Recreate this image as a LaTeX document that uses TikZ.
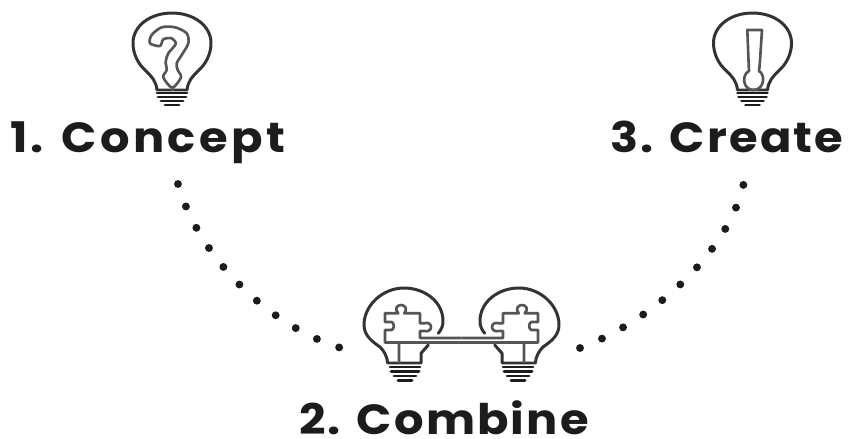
\documentclass[tikz,border=0pt]{standalone}
\usepackage{fontspec}
\setmainfont{Poppins}[FakeStretch=1.1, LetterSpace=5]
\usetikzlibrary{positioning}
\definecolor{ink}{HTML}{1C1C1C}
\tikzset{
    title/.style={font=\bfseries\fontsize{24}{26}\selectfont, text=ink, inner sep=0pt, anchor=base},
    outline/.style={draw=ink!90, line width=1.7pt, line join=round, line cap=round},
    thinline/.style={draw=ink!75, line width=1.5pt, line join=round},
    screw/.style={draw=ink, line width=1.7pt, line cap=round},
    trail/.style={draw=ink, line width=4.5pt, line cap=round}, % round dots
    bulb/.pic={
        \draw[outline] (-15,47) .. controls (-16,38) and (-20,34) .. (-26,28)
            .. controls (-34,21) and (-39,11) .. (-39,0)
            .. controls (-39,-17) and (-22,-30) .. (0,-30)
            .. controls (22,-30) and (39,-17) .. (39,0)
            .. controls (39,11) and (34,21) .. (26,28)
            .. controls (20,34) and (16,38) .. (15,47) -- cycle;
        \foreach \yy/\ww in {50/15,54/14,58/11,62/7}
            \draw[screw] (-\ww,\yy) -- (\ww,\yy);
    },
    halfbulb/.pic={
        \draw[outline] (35.3,6.3) .. controls (39,2) and (40,-2) .. (40,-6)
            .. controls (40,-25) and (22,-39) .. (1,-39)
            .. controls (-20,-39) and (-39,-22) .. (-39,-2)
            .. controls (-39,9) and (-30,15) .. (-23,20)
            .. controls (-19,24) and (-16,29) .. (-15.3,36) -- (18,36) -- (18,26.3) -- (25.3,18);
        \draw[thinline] (-4,36) -- (-4,15.5) -- (-18,15.5) -- (-18,3) -- (-11.3,3)
            .. controls (-8.5,2) and (-8.5,-4) .. (-11.3,-5) -- (-18,-5) -- (-18,-13.7) -- (-4.7,-13.7)
            .. controls (-9,-18) and (-6,-22) .. (-2,-22)
            .. controls (2,-22) and (5,-18) .. (1.3,-13.7) -- (17,-13.7) -- (17,-3.7) -- (21,-3.7)
            .. controls (25,-5) and (28,-3) .. (28,0)
            .. controls (28,3) and (25,5) .. (21,4) -- (17,4) -- (17,11) -- (58.5,11);
        \draw[thinline] (-4,15.5) -- (58.5,15.5);
        \foreach \yy/\ww in {40/15,44.5/14,49/11,53.5/7}
            \draw[screw] (2-\ww,\yy) -- (2+\ww,\yy);
    },
}
\begin{document}
\begin{tikzpicture}[x=0.02cm, y=-0.02cm]
\useasboundingbox (0,0) rectangle (848,439);
% bulbs
\pic at (172,43) {bulb};
\pic at (752.5,43) {bulb};
\pic at (403,327) {halfbulb};
\pic[xscale=-1] at (520,327) {halfbulb};
% question mark
\begin{scope}[shift={(172,43)}]
\draw[thinline] plot[smooth cycle, tension=0.5] coordinates {(-22,0.3) (-20.3,-8) (-10.3,-15.7) (3,-15.7) (14.7,-9.7) (16.3,0.3) (9.7,12) (4.7,20.3) (5.7,27) (9,34.3) (.3,44.7) (-8.7,34.3) (-5.3,27) (-6.3,18.7) (-3.7,10.3) (3.7,1) (-.3,-4.7) (-8.7,-3.7) (-12,3)};
\draw[thinline] (.3,44.7) -- (.3,48);
\end{scope}
% exclamation mark
\draw[thinline] (747.3,30) -- (762,30) -- (759.7,65) -- (759,71) .. controls (766,75) and (764,90) .. (753.5,90)
    .. controls (743,90) and (741,75) .. (749,71) -- (748.7,65) -- cycle;
\draw[thinline] (753.5,90) -- (753.5,91);
% labels
\node[title] (concept) at (147.5,153) {\addfontfeature{LetterSpace=8}1. Concept};
\node[title] (create)  at (727,153) {3. Create};
\node[title] (combine) at (444,434) {2. Combine};
% dotted trails
\coordinate (t1a) at (178,184);
\coordinate (t1b) at (341,348);
\coordinate (t2a) at (580,348);
\coordinate (t2b) at (744,182);
\draw[trail, dash pattern=on 0pt off 13.55pt] (t1a) .. controls (198,255) and (266,325) .. (t1b);
\draw[trail, dash pattern=on 0pt off 13.6pt] (t2a) .. controls (655,320) and (730,250) .. (t2b);
\end{tikzpicture}
\end{document}
